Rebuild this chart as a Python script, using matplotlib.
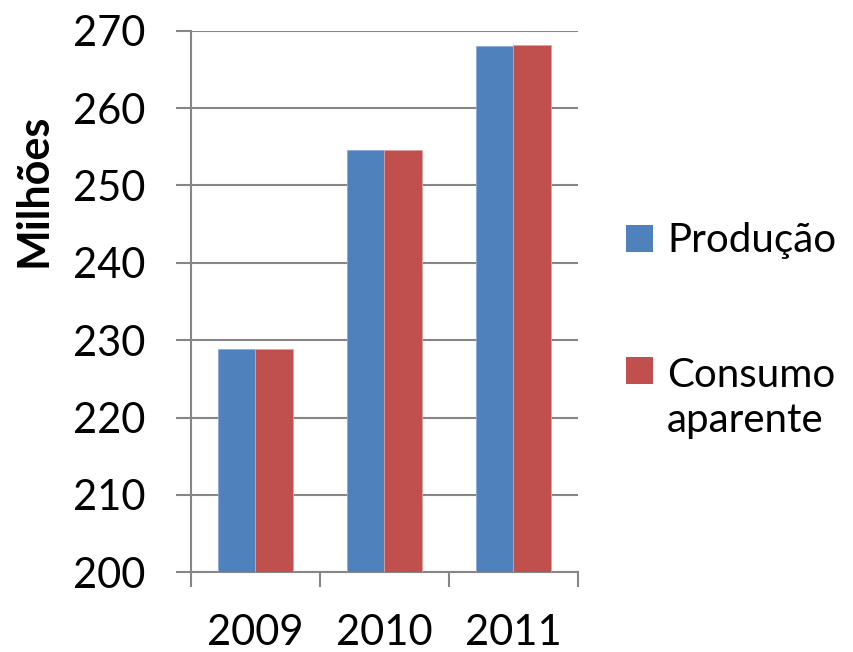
import matplotlib
matplotlib.use("Agg")
import matplotlib.pyplot as plt
from matplotlib.patches import Rectangle
import numpy as np

plt.rcParams['font.family'] = ['Lato', 'DejaVu Sans']

anos = ["2009", "2010", "2011"]
producao = [228.8, 254.55, 268.0]
consumo_aparente = [228.85, 254.6, 268.15]
series_nomes = ["Produção", "Consumo\naparente"]
cores = ["#4F81BD", "#C0504D"]
y_ticks = [200, 210, 220, 230, 240, 250, 260, 270]

W, H = 854, 652
fig = plt.figure(figsize=(W / 100, H / 100), dpi=100)
ax = fig.add_axes([191 / W, 1 - 572.3 / H, (578 - 191) / W, (572.3 - 30.7) / H])

x = np.arange(len(anos))
bw = 0.287
ax.bar(x - bw / 2, producao, bw, color=cores[0], edgecolor="#8EAADB", linewidth=0.6, zorder=3)
ax.bar(x + bw / 2, consumo_aparente, bw, color=cores[1], edgecolor="#E0A0A0", linewidth=0.6, zorder=3)

ax.set_xlim(-0.5, len(anos) - 0.5)
ax.set_ylim(200, 270)
ax.set_yticks(y_ticks)
ax.set_yticklabels([str(v) for v in y_ticks], fontsize=30)
ax.yaxis.grid(True, color="#868686", linewidth=1.5, zorder=0)

# category boundary ticks on the x axis, labels centred under each group
ax.set_xticks(np.arange(len(anos) + 1) - 0.5)
ax.set_xticklabels([""] * (len(anos) + 1))
ax.set_xticks(x, minor=True)
ax.set_xticklabels(anos, minor=True, fontsize=30)
ax.tick_params(axis="x", which="major", length=11, width=1.5, color="#868686", direction="out")
ax.tick_params(axis="x", which="minor", length=0, pad=30)
ax.tick_params(axis="y", length=11, width=1.5, color="#868686", direction="out", pad=22)

for side in ["top", "right"]:
    ax.spines[side].set_visible(False)
for side in ["left", "bottom"]:
    ax.spines[side].set_color("#868686")
    ax.spines[side].set_linewidth(1.5)

fig.text(34 / W, 1 - 190 / H, "Milhões", rotation=90, fontsize=31, fontweight="bold",
         ha="center", va="center")

# legend: square marker beside the first line of each label
leg_sq_top = [225, 357]
leg_last_baseline = [252, 432]
for cor, nome, sq, bl in zip(cores, series_nomes, leg_sq_top, leg_last_baseline):
    fig.patches.append(Rectangle((626 / W, 1 - (sq + 27) / H), 27 / W, 27 / H,
                                 transform=fig.transFigure, facecolor=cor, edgecolor="none"))
    fig.text(667 / W, 1 - bl / H, nome, fontsize=29, ha="left", va="baseline",
             linespacing=1.27)

fig.savefig("out.png", dpi=100)
